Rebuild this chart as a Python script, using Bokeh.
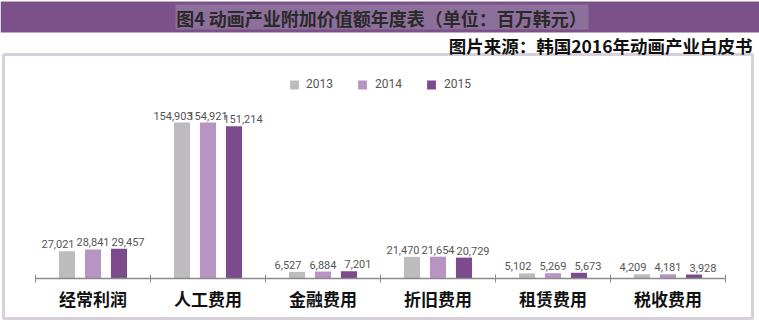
from bokeh.plotting import figure
from bokeh.models import (ColumnDataSource, Range1d, FixedTicker, BoxAnnotation, Label,
                          Legend, LegendItem)
from bokeh.transform import dodge
from bokeh.core.properties import value
from bokeh.embed import file_html
from bokeh.resources import INLINE

categories = ["经常利润", "人工费用", "金融费用", "折旧费用", "租赁费用", "税收费用"]
years = ["2013", "2014", "2015"]
v2013 = [27021, 154903, 6527, 21470, 5102, 4209]
v2014 = [28841, 154921, 6884, 21654, 5269, 4181]
v2015 = [29457, 151214, 7201, 20729, 5673, 3928]
title_text = "图4 动画产业附加价值额年度表（单位：百万韩元）"
source_text = "图片来源：韩国2016年动画产业白皮书"

colors = ["#bdbbbd", "#b894c2", "#7b4b8b"]
CJK = "Noto Sans CJK SC"
NUM = "Roboto"

W, H = 759, 324
# pixel layout of the plotting area inside the canvas
px_left, px_right = 35, 725          # category span
py_base, py_top_val = 278, 122       # baseline and top of the tallest bar (from top)
n = len(categories)
ymax = max(max(v2013), max(v2014), max(v2015))
upp_x = n / (px_right - px_left)
upp_y = ymax / (py_base - py_top_val)
x0 = -px_left * upp_x
x1 = x0 + W * upp_x
y0 = -(H - py_base) * upp_y
y1 = y0 + H * upp_y

xs = [i + 0.5 for i in range(n)]
src = ColumnDataSource(dict(
    x=xs, cat=categories,
    v2013=v2013, v2014=v2014, v2015=v2015,
    l2013=[f"{v:,}" for v in v2013],
    l2014=[f"{v:,}" for v in v2014],
    l2015=[f"{v:,}" for v in v2015],
))

p = figure(width=W, height=H, output_backend="svg", toolbar_location=None,
           x_range=Range1d(x0, x1), y_range=Range1d(y0, y1), y_axis_type=None,
           min_border=0, min_border_left=0, min_border_right=0,
           min_border_top=0, min_border_bottom=0)
p.outline_line_color = None
p.xgrid.visible = False
p.ygrid.visible = False
p.background_fill_color = "white"
p.border_fill_color = "white"

# decorations (canvas pixels)
p.add_layout(BoxAnnotation(left=0, right=W, top=1, bottom=32,
                           left_units="canvas", right_units="canvas",
                           top_units="canvas", bottom_units="canvas",
                           fill_color="#7c5089", fill_alpha=1, line_color=None, level="underlay"))
p.add_layout(BoxAnnotation(left=175, right=588, top=4, bottom=29,
                           left_units="canvas", right_units="canvas",
                           top_units="canvas", bottom_units="canvas",
                           fill_color="#8d6f9c", fill_alpha=1, line_color=None, level="underlay"))
p.add_layout(BoxAnnotation(left=3, right=752, top=54, bottom=318,
                           left_units="canvas", right_units="canvas",
                           top_units="canvas", bottom_units="canvas",
                           fill_alpha=0, line_color="#7a6585", line_width=3, level="underlay"))

offsets = [-0.226, 0.0, 0.226]
label_shift = [-9, 0, 9]
renderers = []
for yr, off, col, sh in zip(years, offsets, colors, label_shift):
    r = p.vbar(x=dodge("x", off), top="v" + yr, width=0.14, source=src,
               fill_color=col, line_color=None)
    renderers.append(r)
    p.text(x=dodge("x", off), y="v" + yr, text="l" + yr, source=src,
           text_align="center", text_baseline="bottom", y_offset=-3, x_offset=sh,
           text_font=value(NUM), text_font_size="11px", text_color="#555555")

legend = Legend(items=[LegendItem(label=yr, renderers=[r]) for yr, r in zip(years, renderers)],
                orientation="horizontal", location="top_center",
                border_line_color=None, background_fill_alpha=0,
                glyph_width=11, glyph_height=11, label_height=11,
                label_text_font=NUM, label_text_font_size="12px", label_text_color="#555555",
                label_standoff=7, spacing=24, margin=77, padding=0)
p.add_layout(legend, "center")

ax = p.xaxis[0]
ax.fixed_location = 0
ax.bounds = (0, n)
ax.ticker = FixedTicker(ticks=xs, minor_ticks=list(range(n + 1)))
ax.major_label_overrides = {x: c for x, c in zip(xs, categories)}
ax.major_tick_line_color = None
ax.major_tick_in = 0
ax.major_tick_out = 0
ax.minor_tick_line_color = "#8a8a8a"
ax.minor_tick_in = 4
ax.minor_tick_out = 4
ax.axis_line_color = "#8a8a8a"
ax.axis_line_width = 1.5
ax.major_label_text_font = CJK
ax.major_label_text_font_size = "17px"
ax.major_label_text_font_style = "bold"
ax.major_label_text_color = "#111111"
ax.major_label_standoff = 3

p.add_layout(Label(x=381, y=17, x_units="canvas", y_units="canvas", text=title_text,
                   text_align="center", text_baseline="middle", text_font=CJK,
                   text_font_size="18px", text_font_style="bold", text_color="#2a2a2a"))
p.add_layout(Label(x=752, y=45, x_units="canvas", y_units="canvas", text=source_text,
                   text_align="right", text_baseline="middle", text_font=CJK,
                   text_font_size="17.5px", text_font_style="bold", text_color="#111111"))

open("out.html", "w").write(file_html(p, INLINE))
